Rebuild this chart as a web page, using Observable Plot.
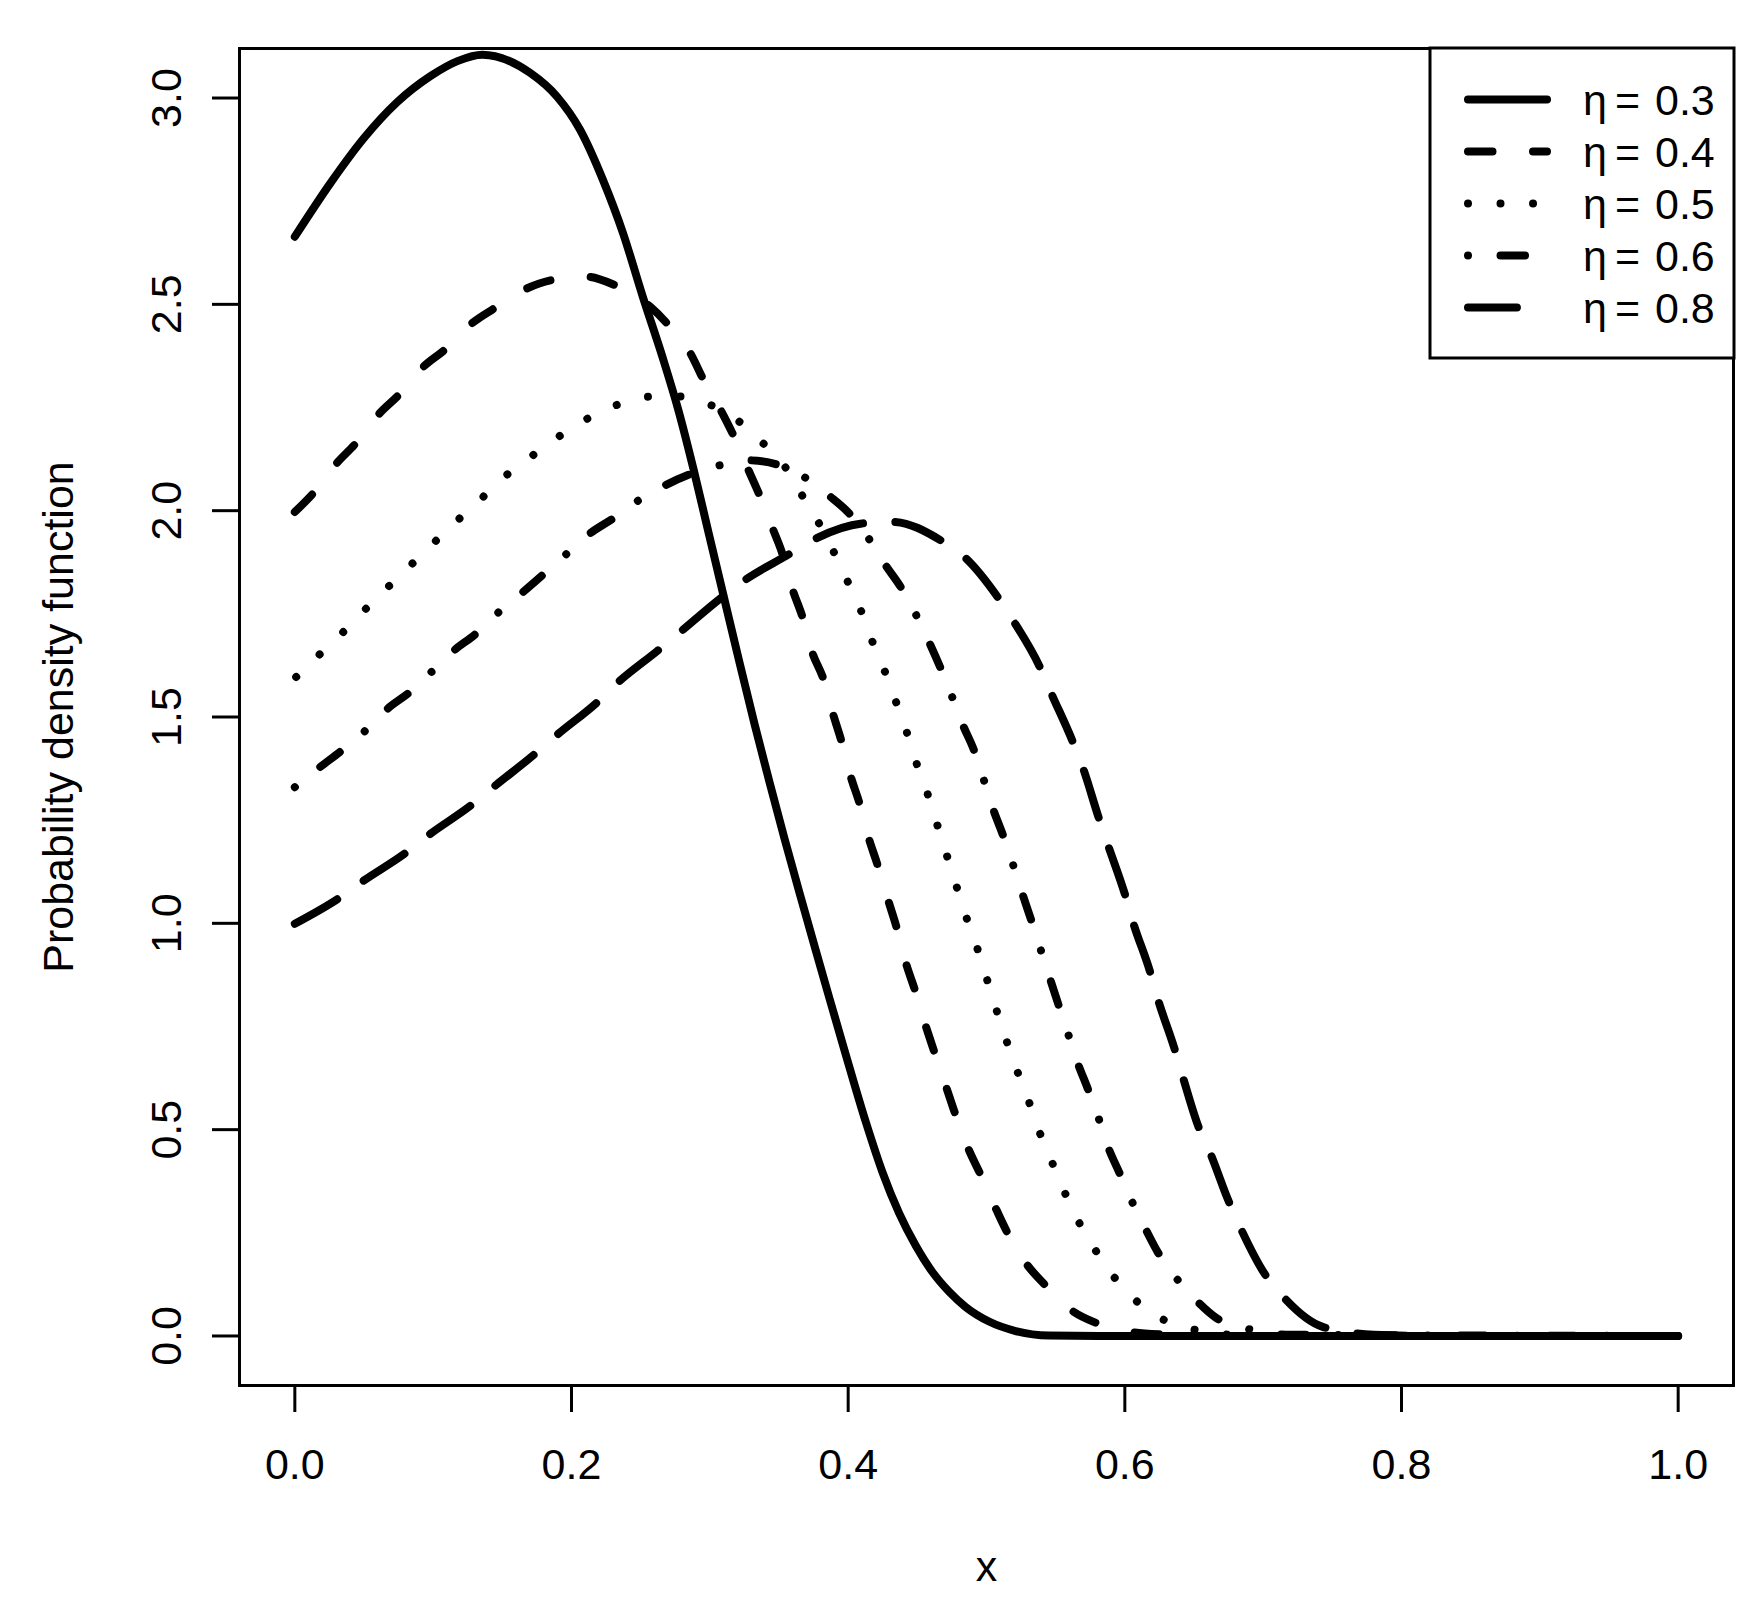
<!DOCTYPE html>
<html>
<head>
<meta charset="utf-8">
<script src="https://cdn.jsdelivr.net/npm/d3@7"></script>
<script src="https://cdn.jsdelivr.net/npm/@observablehq/plot@0.6"></script>
<style>
  html, body { margin: 0; padding: 0; background: #fff; }
  #chart svg { display: block; }
</style>
</head>
<body>
<div id="chart"></div>
<script>
// ---- data ----
const xTicks = [0, 0.2, 0.4, 0.6, 0.8, 1.0];
const yTicks = [0, 0.5, 1.0, 1.5, 2.0, 2.5, 3.0];
const xLabel = "x";
const yLabel = "Probability density function";
const etaValues = ["0.3", "0.4", "0.5", "0.6", "0.8"];

const eta03_x = [0, 0.026, 0.05, 0.074, 0.098, 0.118, 0.1355, 0.17, 0.1896, 0.2062, 0.2228, 0.2372, 0.2516, 0.266, 0.2769, 0.2884, 0.2992, 0.3107, 0.3216, 0.3324, 0.3432, 0.354, 0.3648, 0.3756, 0.3864, 0.3973, 0.4129, 0.4249, 0.4369, 0.449, 0.4609, 0.473, 0.485, 0.5018, 0.5211, 0.5451, 0.5811, 1.0];
const eta03_y = [2.664, 2.795, 2.903, 2.99, 3.053, 3.09, 3.105, 3.061, 3.003, 2.923, 2.801, 2.673, 2.518, 2.37, 2.248, 2.098, 1.945, 1.783, 1.63, 1.482, 1.341, 1.205, 1.074, 0.946, 0.819, 0.693, 0.517, 0.396, 0.297, 0.218, 0.155, 0.107, 0.07, 0.035, 0.012, 0.001, 0, 0];

const eta04_x = [0, 0.014, 0.03, 0.044, 0.061, 0.075, 0.093, 0.108, 0.128, 0.144, 0.168, 0.186, 0.211, 0.231, 0.257, 0.269, 0.286, 0.295, 0.308, 0.317, 0.328, 0.336, 0.346, 0.352, 0.36, 0.367, 0.374, 0.382, 0.389, 0.395, 0.402, 0.408, 0.415, 0.421, 0.429, 0.435, 0.442, 0.448, 0.456, 0.462, 0.471, 0.477, 0.487, 0.495, 0.507, 0.515, 0.529, 0.542, 0.562, 0.579, 0.6, 0.63, 0.66, 1.0];
const eta04_y = [1.997, 2.045, 2.114, 2.163, 2.235, 2.28, 2.349, 2.389, 2.454, 2.49, 2.539, 2.559, 2.567, 2.547, 2.494, 2.454, 2.381, 2.32, 2.243, 2.183, 2.098, 2.037, 1.952, 1.9, 1.807, 1.742, 1.657, 1.593, 1.508, 1.443, 1.354, 1.293, 1.205, 1.144, 1.055, 0.99, 0.901, 0.841, 0.752, 0.691, 0.602, 0.542, 0.453, 0.396, 0.307, 0.251, 0.174, 0.125, 0.061, 0.032, 0.012, 0.003, 0, 0];

const eta05_x = [0.001, 0.018, 0.035, 0.051, 0.068, 0.085, 0.102, 0.119, 0.136, 0.153, 0.172, 0.191, 0.211, 0.231, 0.254, 0.277, 0.3, 0.32, 0.338, 0.354, 0.366, 0.378, 0.389, 0.399, 0.409, 0.417, 0.426, 0.434, 0.442, 0.449, 0.457, 0.464, 0.471, 0.478, 0.485, 0.493, 0.5, 0.507, 0.514, 0.522, 0.53, 0.538, 0.547, 0.556, 0.566, 0.578, 0.591, 0.607, 0.626, 0.647, 0.67, 0.7, 1.0];
const eta05_y = [1.597, 1.652, 1.706, 1.761, 1.817, 1.872, 1.927, 1.981, 2.033, 2.086, 2.134, 2.18, 2.222, 2.254, 2.276, 2.277, 2.257, 2.219, 2.165, 2.108, 2.041, 1.975, 1.904, 1.833, 1.76, 1.687, 1.615, 1.542, 1.467, 1.392, 1.318, 1.243, 1.168, 1.093, 1.019, 0.943, 0.868, 0.792, 0.72, 0.644, 0.574, 0.497, 0.424, 0.352, 0.281, 0.212, 0.148, 0.089, 0.043, 0.018, 0.005, 0, 0];

const eta06_x = [0, 0.018, 0.034, 0.051, 0.067, 0.083, 0.099, 0.115, 0.131, 0.147, 0.165, 0.196, 0.213, 0.23, 0.248, 0.268, 0.287, 0.307, 0.328, 0.354, 0.369, 0.386, 0.402, 0.415, 0.427, 0.438, 0.449, 0.459, 0.467, 0.475, 0.483, 0.491, 0.498, 0.505, 0.512, 0.519, 0.526, 0.532, 0.539, 0.546, 0.552, 0.559, 0.566, 0.573, 0.581, 0.588, 0.596, 0.605, 0.615, 0.624, 0.637, 0.652, 0.666, 0.688, 0.72, 1.0];
const eta06_y = [1.33, 1.378, 1.419, 1.467, 1.52, 1.56, 1.61, 1.661, 1.702, 1.753, 1.803, 1.894, 1.944, 1.981, 2.024, 2.062, 2.09, 2.11, 2.122, 2.106, 2.08, 2.037, 1.989, 1.932, 1.868, 1.815, 1.748, 1.678, 1.617, 1.55, 1.48, 1.419, 1.348, 1.275, 1.213, 1.144, 1.071, 1.011, 0.938, 0.865, 0.803, 0.732, 0.661, 0.601, 0.528, 0.457, 0.396, 0.327, 0.259, 0.202, 0.141, 0.085, 0.044, 0.018, 0.003, 0];

const eta08_x = [0, 0.031, 0.05, 0.079, 0.098, 0.127, 0.145, 0.173, 0.19, 0.218, 0.234, 0.262, 0.28, 0.309, 0.325, 0.357, 0.374, 0.41, 0.432, 0.467, 0.484, 0.508, 0.52, 0.538, 0.547, 0.562, 0.57, 0.581, 0.588, 0.6, 0.606, 0.618, 0.624, 0.636, 0.642, 0.653, 0.662, 0.675, 0.684, 0.701, 0.715, 0.743, 0.78, 0.82, 1.0];
const eta08_y = [0.999, 1.059, 1.104, 1.168, 1.217, 1.285, 1.334, 1.409, 1.458, 1.534, 1.585, 1.66, 1.71, 1.791, 1.831, 1.894, 1.928, 1.969, 1.973, 1.928, 1.888, 1.791, 1.73, 1.625, 1.556, 1.443, 1.374, 1.257, 1.188, 1.071, 1.002, 0.885, 0.815, 0.695, 0.627, 0.509, 0.441, 0.327, 0.259, 0.151, 0.093, 0.022, 0.003, 0, 0];

// ---- styling ----
const lineWidth = 8;
const dashes = [
  null,                          // solid
  "24.5,40.5",                   // dashed
  "0.01,32.5",                   // dotted
  "0.01,32.5,24.5,32.5",         // dot-dash
  "48.9,32.4"                    // long dash
];
const seriesX = [eta03_x, eta04_x, eta05_x, eta06_x, eta08_x];
const seriesY = [eta03_y, eta04_y, eta05_y, eta06_y, eta08_y];
const seriesData = seriesX.map((xs, k) => xs.map((x, i) => ({x, y: seriesY[k][i]})));

const fontFamily = "'Liberation Sans', Arial, Helvetica, sans-serif";
const fs = 43;

const lineMarks = seriesData.map((data, k) => Plot.line(data, {
  x: "x", y: "y", curve: "monotone-x",
  stroke: "black", strokeWidth: lineWidth,
  strokeLinecap: "round", strokeLinejoin: "round",
  strokeDasharray: dashes[k] ?? undefined
}));

const chart = Plot.plot({
  width: 1761, height: 1619,
  marginLeft: 239, marginRight: 28, marginTop: 48, marginBottom: 234,
  x: {domain: [-0.04, 1.04]},
  y: {domain: [-0.12, 3.12]},
  style: {fontFamily, fontSize: fs + "px", color: "black", background: "white"},
  marks: [
    Plot.frame({stroke: "black", strokeWidth: 3}),
    Plot.axisX({ticks: xTicks, tickSize: 27, tickPadding: 36, tickFormat: d3.format(".1f"),
      fontSize: fs, strokeWidth: 3, label: null}),
    Plot.axisY({ticks: yTicks, tickSize: 27, tickPadding: 32, tickFormat: d3.format(".1f"),
      fontSize: fs, strokeWidth: 3, tickRotate: -90, textAnchor: "middle", lineAnchor: "bottom", label: null}),
    ...lineMarks,
    Plot.text([xLabel], {frameAnchor: "bottom", dy: 195, lineAnchor: "bottom", textAnchor: "middle", fontSize: fs, fill: "black"}),
    Plot.text([yLabel], {frameAnchor: "left", dx: -197, rotate: -90, lineAnchor: "top", textAnchor: "middle", fontSize: fs, fill: "black"})
  ]
});
document.getElementById("chart").appendChild(chart);

// ---- legend (top-right, inside plot box) ----
const svg = d3.select(chart.tagName.toLowerCase() === "svg" ? chart : chart.querySelector("svg"));
const lg = svg.append("g").attr("class", "legend").attr("text-anchor", "start");
lg.append("rect").attr("x", 1430).attr("y", 48).attr("width", 304).attr("height", 310)
  .attr("fill", "white").attr("stroke", "black").attr("stroke-width", 3);
const rowY = [99.5, 151.5, 203.5, 255.5, 307.5];
etaValues.forEach((v, k) => {
  const y = rowY[k];
  const l = lg.append("line").attr("x1", 1468).attr("x2", 1547).attr("y1", y).attr("y2", y)
    .attr("stroke", "black").attr("stroke-width", lineWidth).attr("stroke-linecap", "round");
  if (dashes[k]) l.attr("stroke-dasharray", dashes[k]);
  const t = lg.append("text").attr("y", y + 15).attr("font-size", fs).attr("fill", "black")
    .attr("text-anchor", "start").attr("font-family", fontFamily);
  t.append("tspan").attr("x", 1583).text("η");
  t.append("tspan").attr("x", 1615).text("=");
  t.append("tspan").attr("x", 1655).text(v);
});
</script>
</body>
</html>
